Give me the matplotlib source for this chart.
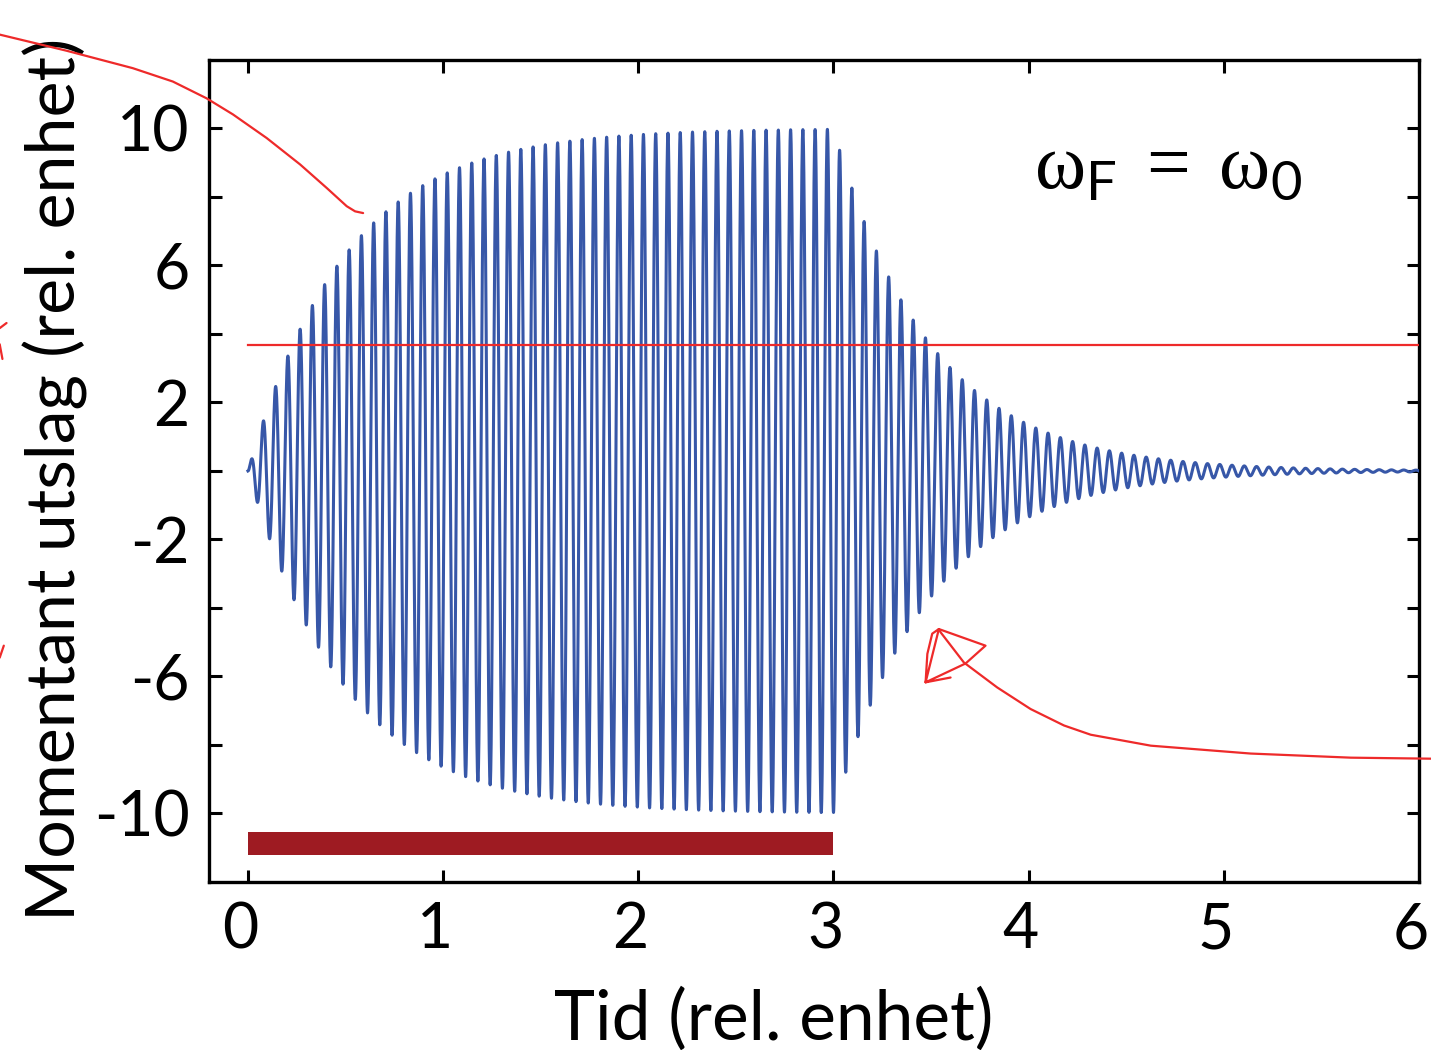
import numpy as np
import matplotlib
matplotlib.use("Agg")
import matplotlib.pyplot as plt
from matplotlib.ticker import FixedLocator
from matplotlib.transforms import ScaledTranslation

plt.rcParams["font.family"] = ["Lato", "DejaVu Sans"]
plt.rcParams["axes.unicode_minus"] = False
plt.rcParams["mathtext.fontset"] = "custom"
plt.rcParams["mathtext.rm"] = "Liberation Serif"
plt.rcParams["mathtext.sf"] = "Lato"

# values
amplitude = 10.0        # steady amplitude reached while driven
omega = 100.0           # angular frequency (period ~0.063)
tau = 0.5               # growth / decay time constant
t_off = 3.0             # driving force switched off here
t_end = 6.0
ref_level = 3.68        # red horizontal line (A/e)
drive_bar = [0.0, 3.0]  # dark red bar: force on
drive_bar_y = [-11.22, -10.55]

y_major = [-10, -6, -2, 2, 6, 10]
y_minor = [-8, -4, 0, 4, 8]
x_ticks = [0, 1, 2, 3, 4, 5, 6]

# hand-drawn red annotation strokes (data units)
stroke_top_t = [-1.272, -0.930, -0.590, -0.385, -0.212, -0.077, 0.096, 0.267, 0.404, 0.506, 0.549, 0.590]
stroke_top_y = [12.74, 12.27, 11.76, 11.37, 10.88, 10.41, 9.72, 8.95, 8.26, 7.73, 7.58, 7.53]
stroke_low_t = [6.067, 5.651, 5.138, 4.626, 4.318, 4.181, 4.010, 3.839, 3.668, 3.549, 3.540]
stroke_low_y = [-8.40, -8.37, -8.25, -8.02, -7.70, -7.43, -6.95, -6.32, -5.59, -4.71, -4.615]
head_t = [3.540, 3.779, 3.677, 3.472, 3.481, 3.506, 3.540, 3.472, 3.600]
head_y = [-4.615, -5.10, -5.62, -6.17, -5.34, -4.75, -4.615, -6.17, -6.03]
edge1_t = [-1.237, -1.272]
edge1_y = [4.32, 4.17]
edge2_t = [-1.272, -1.258]
edge2_y = [3.70, 3.27]
edge3_t = [-1.251, -1.272]
edge3_y = [-5.10, -5.45]

t = np.linspace(0, t_end, 12000)
env = np.where(t < t_off,
               amplitude * (1 - np.exp(-t / tau)),
               amplitude * (1 - np.exp(-t_off / tau)) * np.exp(-(t - t_off) / tau))
x = env * np.sin(omega * t)

fig = plt.figure(figsize=(14.31, 10.5), dpi=100)
ax = fig.add_axes([0.146, 0.16, 0.8456, 0.7829])

ax.plot(t, x, color="#3757a8", lw=2.2, zorder=3)
ax.plot([0, t_end], [ref_level, ref_level], color="#ee2a2a", lw=1.6, zorder=4)
ax.fill_between(drive_bar, drive_bar_y[0], drive_bar_y[1], color="#9e1b22", lw=0, zorder=2)

red = "#ee2a2a"
for xs, ys in [(stroke_top_t, stroke_top_y), (stroke_low_t, stroke_low_y), (head_t, head_y),
               (edge1_t, edge1_y), (edge2_t, edge2_y), (edge3_t, edge3_y)]:
    ax.plot(xs, ys, color=red, lw=1.6, clip_on=False, zorder=5, solid_capstyle="round")

ax.text(4.03, 8.25, r"$\mathrm{\omega}_{\mathsf{F}}\,=\,\mathrm{\omega}_{\mathsf{0}}$",
        fontsize=56, ha="left", va="baseline")

ax.set_xlim(-0.2, 6)
ax.set_ylim(-12, 12)
ax.xaxis.set_major_locator(FixedLocator(x_ticks))
ax.yaxis.set_major_locator(FixedLocator(y_major))
ax.yaxis.set_minor_locator(FixedLocator(y_minor))
ax.tick_params(which="both", direction="in", top=True, right=True, length=9, width=2.2)
ax.tick_params(axis="y", labelsize=45, pad=14)
ax.tick_params(axis="x", labelsize=45, pad=14)
for s in ax.spines.values():
    s.set_linewidth(2.4)

shift = ScaledTranslation(-8 / 100, 0, fig.dpi_scale_trans)
for lab in ax.get_xticklabels():
    lab.set_transform(lab.get_transform() + shift)

ax.set_xlabel("Tid (rel. enhet)", fontsize=50)
ax.set_ylabel("Momentant utslag (rel. enhet)", fontsize=49)
ax.xaxis.set_label_coords(0.467, -0.128)
ax.yaxis.set_label_coords(-0.1, 0.49)

fig.savefig("out.png", dpi=100)
